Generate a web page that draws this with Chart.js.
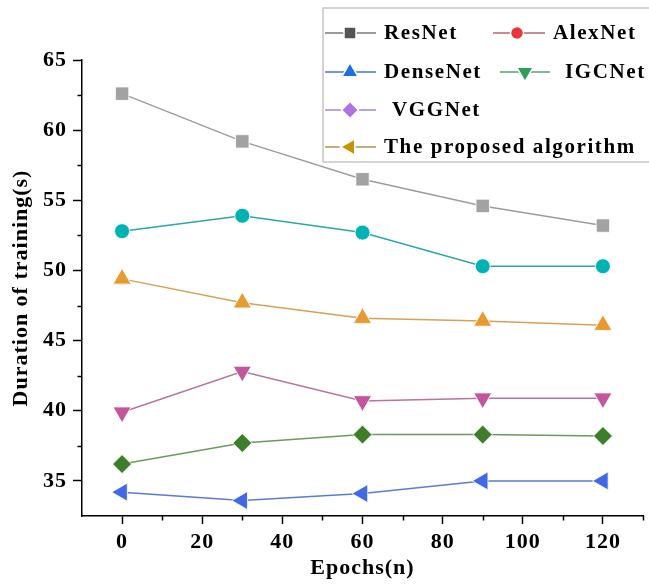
<!DOCTYPE html>
<html>
<head>
<meta charset="utf-8">
<script src="https://cdn.jsdelivr.net/npm/chart.js@4.4.1/dist/chart.umd.min.js"></script>
<style>
  html, body { margin: 0; padding: 0; background: #fff; }
</style>
</head>
<body>
<canvas id="trainingChart" width="649" height="584"></canvas>
<script>
// values
const epochs = [0, 30, 60, 90, 120];
const seriesNames = ['ResNet', 'AlexNet', 'DenseNet', 'IGCNet', 'VGGNet', 'The proposed algorithm'];
const resNet = [62.6, 59.2, 56.5, 54.6, 53.2];
const alexNet = [52.8, 53.9, 52.7, 50.3, 50.3];
const denseNet = [49.4, 47.7, 46.6, 46.4, 46.1];
const igcNet = [39.9, 42.8, 40.7, 40.9, 40.9];
const vggNet = [36.2, 37.7, 38.3, 38.3, 38.2];
const proposed = [34.2, 33.6, 34.1, 35.0, 35.0];
const xTicks = [0, 20, 40, 60, 80, 100, 120];
const yTicks = [35, 40, 45, 50, 55, 60, 65];

const SERIF = "'Liberation Serif', 'Times New Roman', serif";

// marker styles in the plot (the figure's legend uses other colours, kept below)
const markers = [
  { style: 'rect',     rot: 0,   r: 9.5,  fill: '#a2a2a2', line: '#9c9c9c' },
  { style: 'circle',   rot: 0,   r: 7.5,  fill: '#00b3b3', line: '#2aa7a7' },
  { style: 'triangle', rot: 0,   r: 10.5, fill: '#e99a2e', line: '#d9a055' },
  { style: 'triangle', rot: 180, r: 10.5, fill: '#c3569a', line: '#b8749c' },
  { style: 'rectRot',  rot: 0,   r: 9.5,  fill: '#3e7d2a', line: '#6c9a5c' },
  { style: 'triangle', rot: -90, r: 10.5, fill: '#4169e6', line: '#5a7bd6' }
];
const legendColors = [
  { fill: '#555555', line: '#7a7a7a' },
  { fill: '#e8363b', line: '#b36a6a' },
  { fill: '#1c6fe0', line: '#3d7ad2' },
  { fill: '#2f9e5b', line: '#4fa274' },
  { fill: '#b073e0', line: '#a585d4' },
  { fill: '#c89300', line: '#b3954a' }
];

const allValues = [resNet, alexNet, denseNet, igcNet, vggNet, proposed];

const datasets = allValues.map(function(vals, i) {
  const m = markers[i];
  return {
    label: seriesNames[i],
    data: epochs.map((e, k) => ({ x: e, y: vals[k] })),
    borderColor: m.line,
    borderWidth: 1.5,
    pointStyle: m.style,
    pointRotation: m.rot,
    pointRadius: m.r,
    pointHoverRadius: m.r,
    pointBackgroundColor: m.fill,
    pointBorderColor: 'rgba(255,255,255,0.85)',
    pointBorderWidth: 1,
    tension: 0,
    clip: false
  };
});

// minor ticks + the boxed legend of the original figure
const figureExtras = {
  id: 'figureExtras',
  beforeDraw(chart) {
    chart.ctx.letterSpacing = '1px';
  },
  afterDraw(chart) {
    const ctx = chart.ctx;
    const x = chart.scales.x, y = chart.scales.y;
    ctx.save();
    ctx.strokeStyle = '#000';
    ctx.lineWidth = 1.5;
    ctx.beginPath();
    for (let v = 10; v <= 130; v += 20) {
      const px = Math.round(x.getPixelForValue(v)) + 0.5;
      ctx.moveTo(px, y.bottom);
      ctx.lineTo(px, y.bottom + 4.5);
    }
    for (let v = 37.5; v < 65; v += 5) {
      const py = Math.round(y.getPixelForValue(v)) + 0.5;
      ctx.moveTo(x.left - 4.5, py);
      ctx.lineTo(x.left, py);
    }
    ctx.stroke();

    // legend box
    ctx.fillStyle = '#fff';
    ctx.fillRect(323, 8, 340, 154);
    ctx.strokeStyle = '#c6c6c6';
    ctx.lineWidth = 1.5;
    ctx.strokeRect(323, 8, 340, 154);

    const rows = [
      { i: 0, y: 33,  l0: 325, l1: 376, mx: 350, tx: 384 },
      { i: 1, y: 33,  l0: 493, l1: 545, mx: 517, tx: 553 },
      { i: 2, y: 72,  l0: 325, l1: 376, mx: 350, tx: 384 },
      { i: 3, y: 72,  l0: 500, l1: 550, mx: 525, tx: 565 },
      { i: 4, y: 110, l0: 325, l1: 376, mx: 350, tx: 392 },
      { i: 5, y: 147, l0: 325, l1: 376, mx: 350, tx: 384 }
    ];
    ctx.font = 'bold 21px ' + SERIF;
    ctx.textBaseline = 'middle';
    ctx.letterSpacing = '1.6px';
    rows.forEach(function(row) {
      const c = legendColors[row.i], m = markers[row.i];
      ctx.strokeStyle = c.line;
      ctx.lineWidth = 1.5;
      ctx.beginPath();
      ctx.moveTo(row.l0, row.y);
      ctx.lineTo(row.l1, row.y);
      ctx.stroke();
      ctx.fillStyle = c.fill;
      ctx.strokeStyle = '#fff';
      Chart.helpers.drawPoint(ctx, {
        pointStyle: m.style, rotation: m.rot, radius: m.r - 1, borderWidth: 1
      }, row.mx, row.y);
      ctx.fillStyle = '#000';
      ctx.fillText(seriesNames[row.i], row.tx, row.y + 1);
    });
    ctx.restore();
  }
};

new Chart(document.getElementById('trainingChart'), {
  type: 'line',
  data: { datasets: datasets },
  plugins: [figureExtras],
  options: {
    responsive: false,
    animation: false,
    events: [],
    layout: { autoPadding: false, padding: { top: 60, right: 6, left: 0, bottom: 0 } },
    plugins: {
      legend: { display: false },
      tooltip: { enabled: false }
    },
    scales: {
      x: {
        type: 'linear',
        min: -10,
        max: 130,
        afterBuildTicks: function(scale) {
          scale.ticks = xTicks.map(v => ({ value: v }));
        },
        afterFit: function(scale) { scale.height = 68; },
        grid: { drawOnChartArea: false, drawTicks: true, tickLength: 8, tickColor: '#000', tickWidth: 1.5 },
        border: { color: '#000', width: 1.5 },
        ticks: {
          color: '#000',
          padding: 5,
          maxRotation: 0,
          autoSkip: false,
          font: { family: SERIF, size: 22, weight: 'bold' }
        },
        title: {
          display: true,
          text: 'Epochs(n)',
          color: '#000',
          font: { family: SERIF, size: 22, weight: 'bold' },
          padding: { top: 0, bottom: 2 }
        }
      },
      y: {
        type: 'linear',
        min: 32.5,
        max: 65,
        afterBuildTicks: function(scale) {
          scale.ticks = yTicks.map(v => ({ value: v }));
        },
        afterFit: function(scale) { scale.width = 82; },
        grid: { drawOnChartArea: false, drawTicks: true, tickLength: 9, tickColor: '#000', tickWidth: 1.5 },
        border: { color: '#000', width: 1.5 },
        ticks: {
          color: '#000',
          padding: 6,
          font: { family: SERIF, size: 22, weight: 'bold' }
        },
        title: {
          display: true,
          text: 'Duration of training(s)',
          color: '#000',
          font: { family: SERIF, size: 22, weight: 'bold' },
          padding: { top: 8, bottom: 0 }
        }
      }
    }
  }
});
</script>
</body>
</html>
